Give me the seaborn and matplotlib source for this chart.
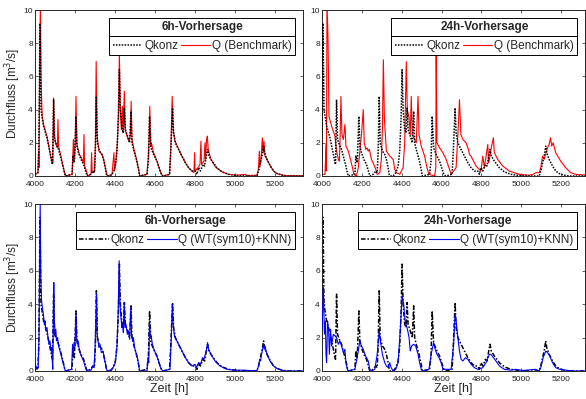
import numpy as np
import pandas as pd
import matplotlib
matplotlib.use("Agg")
import matplotlib.pyplot as plt
import seaborn as sns
from matplotlib.lines import Line2D

# Gemessener Abfluss Qkonz (Zeitachse der 6h-Vorhersage)
zeit_konz = [4000, 4015, 4019, 4022, 4025, 4030, 4043, 4060, 4077, 4085, 4088, 4093, 4098,
             4110, 4118, 4127, 4140, 4147, 4152, 4185, 4190, 4197, 4205, 4210, 4218, 4230,
             4243, 4253, 4260, 4277, 4290, 4297, 4302, 4307, 4312, 4323, 4335, 4343, 4352,
             4357, 4362, 4377, 4390, 4402, 4410, 4417, 4422, 4427, 4435, 4442, 4447, 4452,
             4463, 4473, 4480, 4485, 4493, 4507, 4518, 4523, 4560, 4567, 4573, 4580, 4593,
             4610, 4623, 4632, 4640, 4673, 4680, 4688, 4693, 4702, 4718, 4735, 4752, 4768,
             4785, 4802, 4810, 4818, 4827, 4840, 4848, 4857, 4863, 4870, 4885, 4910, 4935,
             4968, 5010, 5060, 5110, 5118, 5127, 5135, 5143, 5148, 5160, 5177, 5193, 5210,
             5235, 5260, 5420]
q_konz = [0.1, 0.2, 1.5, 5.0, 9.2, 4.0, 3.0, 2.3, 1.3, 0.8, 0.7, 4.6, 2.2,
          1.8, 1.6, 1.2, 0.6, 0.2, 0.0, 0.1, 1.2, 0.8, 3.6, 1.8, 1.4, 1.0,
          0.7, 0.3, 0.0, 0.1, 0.3, 0.2, 1.5, 4.8, 2.0, 1.5, 1.3, 1.0, 0.5,
          0.1, 0.0, 0.0, 0.2, 0.6, 1.5, 3.5, 6.4, 4.0, 2.8, 2.6, 4.1, 2.8,
          2.4, 2.0, 3.9, 2.0, 1.6, 1.0, 0.4, 0.0, 0.1, 0.9, 3.6, 1.7, 1.3,
          0.9, 0.4, 0.1, 0.0, 0.1, 1.8, 4.1, 2.6, 2.0, 1.6, 1.2, 0.8, 0.5,
          0.3, 0.3, 0.1, 0.5, 0.3, 0.7, 0.6, 1.2, 1.6, 1.2, 0.9, 0.5, 0.25,
          0.1, 0.03, 0.0, 0.0, 0.3, 0.8, 1.2, 1.8, 1.4, 1.0, 0.6, 0.3, 0.15,
          0.05, 0.0, 0.0]
# Versatz der Beobachtung in den 24h-Grafiken [h]
versatz_24h = 20

# Benchmark, 6h
zeit_bm6 = [4000, 4015, 4018, 4020, 4023, 4027, 4031, 4036, 4045, 4060, 4075, 4085, 4089,
            4093, 4097, 4105, 4112, 4115, 4118, 4128, 4140, 4148, 4153, 4186, 4192, 4196,
            4201, 4205, 4209, 4215, 4222, 4232, 4242, 4245, 4248, 4255, 4262, 4267, 4280,
            4283, 4286, 4298, 4302, 4306, 4310, 4320, 4335, 4345, 4355, 4362, 4385, 4395,
            4398, 4405, 4412, 4418, 4422, 4426, 4432, 4437, 4440, 4447, 4451, 4460, 4470,
            4477, 4481, 4485, 4495, 4508, 4518, 4524, 4560, 4566, 4570, 4574, 4578, 4582,
            4593, 4610, 4623, 4632, 4640, 4673, 4680, 4686, 4691, 4700, 4712, 4730, 4752,
            4768, 4785, 4795, 4798, 4801, 4815, 4825, 4830, 4833, 4845, 4850, 4853, 4858,
            4862, 4866, 4880, 4905, 4935, 4968, 5010, 5050, 5060, 5110, 5117, 5122, 5125,
            5130, 5137, 5141, 5145, 5150, 5160, 5177, 5193, 5210, 5240, 5270, 5420]
q_bm6 = [0.1, 0.2, 1.5, 0.5, 6.0, 10.5, 5.5, 3.6, 3.0, 2.4, 1.4, 0.8, 0.8,
         4.7, 2.4, 1.9, 1.7, 3.4, 1.8, 1.3, 0.6, 0.2, 0.0, 0.1, 2.2, 1.0,
         1.8, 4.8, 2.0, 1.6, 1.3, 1.1, 0.8, 2.5, 0.6, 0.4, 0.1, 0.0, 0.1,
         1.4, 0.2, 0.3, 2.0, 6.9, 2.5, 1.5, 1.3, 0.9, 0.3, 0.0, 0.1, 1.4,
         0.3, 0.9, 2.0, 4.0, 7.4, 4.2, 2.8, 4.2, 2.6, 5.1, 2.8, 2.4, 2.1,
         2.5, 4.5, 2.2, 1.6, 1.0, 0.4, 0.0, 0.1, 1.0, 2.0, 4.2, 1.8, 2.0,
         1.4, 0.9, 0.4, 0.1, 0.0, 0.1, 1.9, 4.8, 2.8, 2.1, 1.8, 1.3, 0.8,
         0.5, 0.3, 0.2, 1.4, 0.3, 0.5, 0.7, 2.1, 0.7, 0.9, 2.0, 1.0, 2.2,
         2.4, 1.6, 1.0, 0.5, 0.25, 0.1, 0.05, 0.1, 0.03, 0.05, 0.4, 1.5, 0.6,
         1.0, 2.3, 1.4, 2.1, 1.2, 1.0, 0.6, 0.3, 0.15, 0.05, 0.02, 0.02]

# Benchmark, 24h
zeit_bm24 = [4000, 4015, 4020, 4022, 4025, 4030, 4035, 4048, 4065, 4073, 4082, 4087, 4090,
             4095, 4100, 4107, 4115, 4120, 4132, 4143, 4153, 4160, 4173, 4182, 4190, 4198,
             4207, 4212, 4220, 4226, 4232, 4238, 4248, 4260, 4270, 4277, 4290, 4298, 4303,
             4308, 4313, 4323, 4340, 4357, 4365, 4373, 4390, 4407, 4415, 4423, 4428, 4437,
             4443, 4448, 4453, 4465, 4473, 4482, 4487, 4498, 4515, 4527, 4537, 4565, 4571,
             4573, 4577, 4590, 4607, 4623, 4637, 4648, 4673, 4682, 4690, 4697, 4707, 4723,
             4735, 4740, 4748, 4773, 4798, 4807, 4815, 4832, 4836, 4840, 4848, 4860, 4865,
             4882, 4907, 4940, 4990, 5040, 5060, 5073, 5090, 5098, 5107, 5115, 5132, 5140,
             5147, 5153, 5160, 5173, 5198, 5223, 5248, 5273, 5330]
q_bm24 = [0.1, 0.1, 1.9, 0.3, 10.5, 8.4, 3.6, 3.0, 2.4, 1.5, 1.0, 0.9, 1.8,
          4.8, 2.5, 2.2, 3.1, 1.8, 1.5, 1.0, 0.5, 0.1, 0.0, 0.5, 1.5, 2.5,
          4.0, 2.0, 1.6, 1.7, 1.5, 1.6, 1.0, 0.7, 0.4, 0.1, 0.2, 1.0, 2.8,
          7.0, 3.5, 1.5, 1.2, 1.0, 0.4, 0.2, 0.1, 0.5, 2.0, 6.9, 4.0, 3.5,
          2.5, 4.8, 2.5, 2.2, 2.0, 4.8, 2.5, 1.8, 1.2, 0.5, 0.1, 0.0, 0.5,
          7.5, 2.0, 1.7, 1.4, 1.0, 0.5, 0.1, 0.5, 2.5, 4.6, 2.5, 2.2, 2.0,
          1.6, 1.3, 1.2, 0.6, 0.3, 1.2, 0.5, 1.9, 0.8, 1.0, 1.6, 2.3, 1.4,
          1.0, 0.6, 0.3, 0.1, 0.05, 0.1, 0.2, 0.2, 0.5, 1.2, 1.0, 1.7, 1.9,
          2.3, 1.8, 2.0, 1.4, 0.9, 0.5, 0.2, 0.1, 0.05]

# WT(sym10)+KNN, 6h
zeit_wt6 = [4000, 4005, 4010, 4016, 4020, 4023, 4026, 4029, 4033, 4037, 4042, 4047, 4050,
            4055, 4060, 4065, 4070, 4075, 4080, 4084, 4087, 4089, 4091, 4094, 4097, 4100,
            4104, 4108, 4113, 4118, 4125, 4132, 4140, 4147, 4152, 4183, 4188, 4192, 4196,
            4200, 4205, 4208, 4212, 4216, 4222, 4228, 4235, 4243, 4250, 4257, 4280, 4290,
            4295, 4300, 4304, 4308, 4311, 4315, 4320, 4325, 4332, 4340, 4347, 4353, 4358,
            4362, 4385, 4395, 4402, 4410, 4416, 4421, 4425, 4430, 4434, 4438, 4442, 4446,
            4450, 4455, 4462, 4467, 4473, 4479, 4483, 4488, 4492, 4498, 4505, 4512, 4518,
            4523, 4560, 4565, 4569, 4573, 4577, 4581, 4587, 4595, 4605, 4615, 4625, 4632,
            4640, 4675, 4681, 4687, 4691, 4697, 4705, 4718, 4735, 4752, 4768, 4785, 4800,
            4808, 4818, 4828, 4838, 4845, 4852, 4858, 4863, 4868, 4880, 4900, 4925, 4955,
            4990, 5050, 5080, 5110, 5118, 5124, 5128, 5133, 5138, 5143, 5147, 5150, 5158,
            5175, 5193, 5210, 5235, 5260, 5420]
q_wt6 = [0.4, 0.3, 0.1, 0.2, 2.0, 6.0, 10.0, 5.6, 4.2, 3.8, 3.4, 2.8, 3.0,
         2.4, 2.6, 2.0, 1.6, 1.8, 1.2, 1.4, 0.5, 0.1, 2.5, 5.3, 3.0, 2.2,
         2.5, 1.8, 2.0, 1.5, 1.2, 0.9, 0.5, 0.2, 0.0, 0.1, 1.6, 1.0, 1.7,
         1.5, 3.4, 2.0, 1.6, 1.8, 1.2, 1.0, 0.8, 0.6, 0.3, 0.05, 0.05, 0.3,
         0.2, 1.2, 3.0, 4.6, 2.2, 1.8, 1.4, 1.6, 1.1, 1.2, 0.7, 0.4, 0.1,
         0.0, 0.1, 0.3, 0.5, 1.5, 3.5, 6.6, 4.0, 3.2, 2.6, 2.8, 2.3, 4.1,
         2.6, 2.8, 2.2, 2.4, 1.9, 3.8, 2.2, 1.8, 2.0, 1.4, 1.1, 0.8, 0.4,
         0.0, 0.0, 0.8, 0.5, 3.0, 2.0, 2.1, 1.6, 1.3, 1.0, 0.7, 0.3, 0.1,
         0.0, 0.1, 1.8, 4.0, 2.8, 2.1, 1.9, 1.6, 1.2, 0.8, 0.5, 0.3, 0.4,
         0.2, 0.5, 0.4, 0.8, 0.7, 1.0, 1.3, 1.7, 1.3, 1.0, 0.6, 0.3, 0.12,
         0.05, 0.05, 0.02, 0.02, 0.3, 0.7, 0.6, 1.0, 1.3, 1.6, 1.3, 1.5, 1.1,
         0.6, 0.3, 0.15, 0.05, 0.0, 0.0]

# WT(sym10)+KNN, 24h
zeit_wt24 = [4000, 4007, 4012, 4017, 4020, 4023, 4028, 4033, 4037, 4043, 4048, 4057, 4065,
             4073, 4082, 4090, 4098, 4107, 4115, 4120, 4127, 4132, 4165, 4173, 4182, 4190,
             4198, 4207, 4215, 4223, 4232, 4240, 4248, 4265, 4277, 4287, 4293, 4303, 4315,
             4323, 4332, 4340, 4347, 4357, 4370, 4382, 4393, 4402, 4410, 4417, 4427, 4437,
             4443, 4450, 4460, 4470, 4482, 4490, 4498, 4507, 4537, 4548, 4560, 4568, 4577,
             4587, 4598, 4607, 4648, 4660, 4668, 4673, 4682, 4690, 4698, 4707, 4720, 4732,
             4748, 4765, 4782, 4807, 4823, 4840, 4848, 4860, 4873, 4890, 4915, 4948, 4973,
             5007, 5073, 5090, 5098, 5110, 5123, 5132, 5143, 5157, 5173, 5193, 5223, 5260,
             5330]
q_wt24 = [2.5, 5.0, 2.2, 3.0, 1.0, 0.5, 3.0, 2.5, 1.0, 2.5, 1.5, 2.2, 2.1,
          2.0, 1.6, 1.8, 1.5, 1.1, 1.3, 0.5, 0.1, 0.0, 0.1, 0.6, 1.2, 1.8,
          1.5, 1.3, 1.0, 0.8, 0.6, 0.1, 0.0, 0.1, 1.0, 2.4, 1.8, 1.0, 0.5,
          0.3, 0.2, 0.5, 0.2, 0.0, 0.1, 0.5, 2.5, 4.5, 4.0, 3.0, 2.6, 2.0,
          1.2, 1.5, 1.6, 1.5, 1.0, 0.5, 0.1, 0.0, 0.1, 1.0, 1.7, 1.3, 1.0,
          0.8, 0.5, 0.1, 0.1, 1.5, 3.4, 3.0, 2.0, 1.2, 0.7, 0.6, 0.8, 0.7,
          0.4, 0.2, 0.1, 0.2, 0.5, 1.0, 1.0, 0.8, 0.6, 0.3, 0.1, 0.05, 0.1,
          0.03, 0.1, 0.0, 0.2, 0.8, 1.2, 1.1, 0.9, 0.5, 0.2, 0.1, 0.05, 0.0,
          0.0]

sns.set_style("ticks")
plt.rcParams['font.family'] = ['Liberation Sans', 'DejaVu Sans']
plt.rcParams['xtick.direction'] = 'in'
plt.rcParams['ytick.direction'] = 'in'

fig = plt.figure(figsize=(5.86, 3.99), dpi=100)
ax_tl = fig.add_axes([0.0597, 0.5589, 0.4573, 0.416])
ax_tr = fig.add_axes([0.5495, 0.5589, 0.4488, 0.416])
ax_bl = fig.add_axes([0.0597, 0.0702, 0.4573, 0.4185])
ax_br = fig.add_axes([0.5495, 0.0702, 0.4488, 0.4185])

konz = pd.DataFrame({'zeit': zeit_konz, 'q': q_konz})
konz24 = konz.assign(zeit=konz['zeit'] - versatz_24h)

punkt = (0, (1, 0.9))
strichpunkt = (0, (3, 1.2, 1, 1.2))

panels = [
    (ax_tl, konz, zeit_bm6, q_bm6, 'red', 'Q (Benchmark)', '6h-Vorhersage', punkt, 5340),
    (ax_tr, konz24, zeit_bm24, q_bm24, 'red', 'Q (Benchmark)', '24h-Vorhersage', punkt, 5320),
    (ax_bl, konz, zeit_wt6, q_wt6, 'blue', 'Q (WT(sym10)+KNN)', '6h-Vorhersage', strichpunkt, 5340),
    (ax_br, konz24, zeit_wt24, q_wt24, 'blue', 'Q (WT(sym10)+KNN)', '24h-Vorhersage', strichpunkt, 5320),
]

legends = []
for ax, kz, zt, qv, col, lab, titel, ls, xmax in panels:
    oben = col == 'red'
    sns.lineplot(x=kz['zeit'], y=kz['q'], ax=ax, color='black', linestyle=ls,
                 linewidth=1.1, estimator=None, sort=False, zorder=3 if oben else 2)
    sns.lineplot(x=zt, y=qv, ax=ax, color=col, linewidth=0.8,
                 estimator=None, sort=False, zorder=2 if oben else 3)
    ax.set_xlim(4000, xmax)
    ax.set_ylim(0, 10)
    ax.set_xticks(range(4000, 5201, 200))
    ax.set_yticks(range(0, 11, 2))
    ax.tick_params(labelsize=6, length=2.5, width=0.5, top=True, right=True,
                   colors='#222222')
    ax.tick_params(axis='x', pad=3.5)
    ax.tick_params(axis='y', pad=1.5)
    for sp in ax.spines.values():
        sp.set_linewidth(0.7)
        sp.set_visible(True)
    ax.set_xlabel('')
    ax.set_ylabel('')
    handles = [Line2D([], [], color='black', linestyle=ls, linewidth=1.1),
               Line2D([], [], color=col, linewidth=0.8)]
    leg = ax.legend(handles, ['Qkonz', lab], title=titel, ncol=2, loc='upper right',
                    fontsize=8.5, title_fontproperties={'weight': 'bold', 'size': 8.5},
                    frameon=True, fancybox=False, edgecolor='black', framealpha=1,
                    handlelength=2.5, handletextpad=0.15, columnspacing=0.2,
                    borderpad=0.3, borderaxespad=0.65, labelspacing=0.55)
    leg.get_frame().set_linewidth(0.7)
    legends.append(leg)

for ax in (ax_tl, ax_bl):
    ax.set_ylabel('Durchfluss [m$^3$/s]', fontsize=8.5, labelpad=0.5)
for ax in (ax_bl, ax_br):
    ax.set_xlabel('Zeit [h]', fontsize=9, labelpad=0)

# Trennlinie zwischen Legendentitel und Einträgen
fig.canvas.draw()
inv = fig.transFigure.inverted()
for leg in legends:
    fb = leg.get_frame().get_window_extent()
    tb = leg.get_title().get_window_extent()
    lb = leg.get_texts()[0].get_window_extent()
    y = 0.5 * (tb.y0 + lb.y1)
    (x0, yf), (x1, _) = inv.transform([(fb.x0, y), (fb.x1, y)])
    fig.add_artist(Line2D([x0, x1], [yf, yf], color='black', linewidth=0.7))

fig.savefig('out.png', dpi=100)
